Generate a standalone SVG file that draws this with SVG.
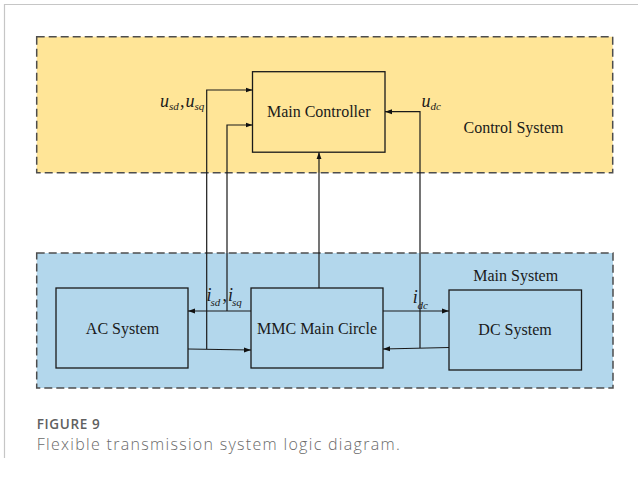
<svg xmlns="http://www.w3.org/2000/svg" width="638" height="481" viewBox="0 0 638 481">
  <defs>
    <marker id="arrow" viewBox="0 0 7 6" refX="7" refY="3" markerWidth="7" markerHeight="6" markerUnits="userSpaceOnUse" orient="auto">
      <path d="M0,0.5 L7,3 L0,5.5 Z" fill="#111"/>
    </marker>
  </defs>
  <style>
    .frame { fill: none; stroke: #c6c6c6; stroke-width: 1.2; }
    .zone { stroke: #4d4d4d; stroke-width: 1.5; stroke-dasharray: 8 4; }
    .ctrl { fill: #ffe597; }
    .main { fill: #b3d7ec; }
    .block { fill: none; stroke: #1a1a1a; stroke-width: 1.3; }
    .lbl { font-family: "Liberation Serif", "Times New Roman", serif; font-size: 16px; fill: #1a1a1a; text-anchor: middle; }
    .mi { font-family: "Liberation Serif", "Times New Roman", serif; font-style: italic; font-size: 18px; fill: #1a1a1a; }
    .sub { font-size: 11px; }
    .wire { fill: none; stroke: #1a1a1a; stroke-width: 1.2; }
    .cap-h { font-family: "Open Sans", "Noto Sans", sans-serif; font-weight: 600; font-size: 13.5px; fill: #606060; }
    .cap { font-family: "Open Sans", "Noto Sans", sans-serif; font-weight: 300; font-size: 16px; fill: #6a6a6a; }
  </style>

  <!-- page frame -->
  <path class="frame" d="M4.5,458 V4.5 H638"/>

  <!-- zones -->
  <g id="control-system">
    <rect class="zone ctrl" x="36.7" y="36.7" width="576" height="136"/>
    <text class="lbl" x="513.5" y="133.3">Control System</text>
  </g>
  <g id="main-system">
    <rect class="zone main" x="36.7" y="253" width="576.3" height="135"/>
    <text class="lbl" x="515.7" y="280.7">Main System</text>
  </g>

  <!-- blocks -->
  <g id="main-controller">
    <rect class="block" x="252.5" y="71.7" width="132.5" height="80.5"/>
    <text class="lbl" x="318.7" y="117">Main Controller</text>
  </g>
  <g id="ac-system">
    <rect class="block" x="56" y="288" width="132" height="80"/>
    <text class="lbl" x="122.5" y="333.5">AC System</text>
  </g>
  <g id="mmc-main-circle">
    <rect class="block" x="251" y="288" width="132" height="80"/>
    <text class="lbl" x="317" y="333.5">MMC Main Circle</text>
  </g>
  <g id="dc-system">
    <rect class="block" x="449" y="290" width="132.5" height="80"/>
    <text class="lbl" x="515" y="335">DC System</text>
  </g>

  <!-- connectors -->
  <g id="connectors">
    <!-- AC to MMC, voltage tap up to controller -->
    <path class="wire" d="M188,349 L251,350" marker-end="url(#arrow)"/>
    <path class="wire" d="M206.7,349 V90 H252.5" marker-end="url(#arrow)"/>
    <!-- MMC to AC, current tap up to controller -->
    <path class="wire" d="M251,311 H188" marker-end="url(#arrow)"/>
    <path class="wire" d="M227,311 V125 H252.5" marker-end="url(#arrow)"/>
    <!-- MMC up to controller -->
    <path class="wire" d="M319,288 V152.2" marker-end="url(#arrow)"/>
    <!-- MMC to DC -->
    <path class="wire" d="M383,311 H449" marker-end="url(#arrow)"/>
    <!-- DC to MMC, dc voltage tap up to controller -->
    <path class="wire" d="M449,347.5 L383,349" marker-end="url(#arrow)"/>
    <path class="wire" d="M420,348 V111.7 H385" marker-end="url(#arrow)"/>

    <!-- signal labels -->
    <text class="mi" y="106.7"><tspan x="160">u</tspan><tspan class="sub" x="169" y="109.5">sd</tspan><tspan x="180" y="106.7" font-style="normal">,</tspan><tspan x="185.5" y="106.7">u</tspan><tspan class="sub" x="194.5" y="109.5">sq</tspan></text>
    <text class="mi" y="106.7"><tspan x="421.5">u</tspan><tspan class="sub" x="430.5" y="109.5">dc</tspan></text>
    <text class="mi" y="301" font-size="17"><tspan x="206.5">i</tspan><tspan class="sub" x="210.5" y="306">sd</tspan><tspan x="222.5" y="301" font-style="normal">,</tspan><tspan x="228" y="301">i</tspan><tspan class="sub" x="232" y="306">sq</tspan></text>
    <text class="mi" y="303" font-size="17"><tspan x="412.8">i</tspan><tspan class="sub" x="417.5" y="309">dc</tspan></text>
  </g>

  <!-- caption -->
  <text class="cap-h" x="36.7" y="428.5" textLength="63" lengthAdjust="spacing">FIGURE 9</text>
  <text class="cap" x="36.7" y="450" textLength="363" lengthAdjust="spacing">Flexible transmission system logic diagram.</text>
</svg>
